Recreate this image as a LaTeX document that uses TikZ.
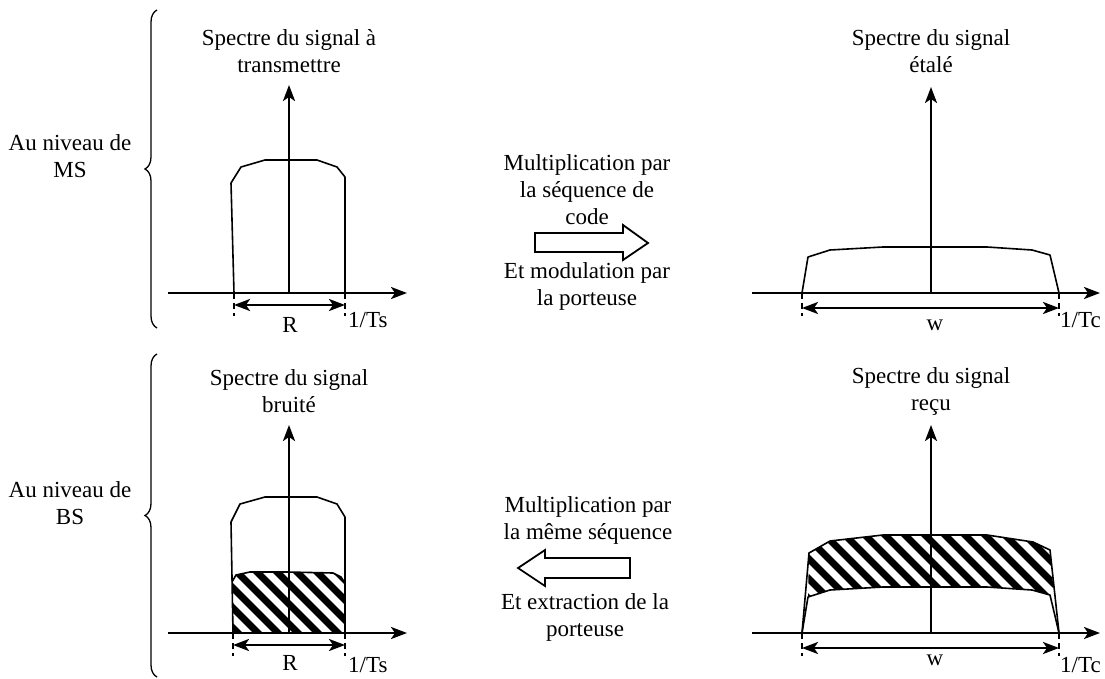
\documentclass[tikz,border=0pt]{standalone}
\usepackage{fontspec}
\setmainfont{Liberation Serif}
\usetikzlibrary{arrows.meta, decorations.pathreplacing, positioning}

\begin{document}
\begin{tikzpicture}[x=1pt, y=-1pt,
    lbl/.style={font=\fontsize{23}{27}\selectfont, align=center, inner sep=0pt},
    axe/.style={line width=2.4pt, -{Stealth[length=16pt, width=12pt, inset=4pt]}},
    cote/.style={line width=2.4pt, {Stealth[length=16pt, width=12pt, inset=4pt]}-{Stealth[length=16pt, width=12pt, inset=4pt]}},
    spec/.style={line width=1.6pt, line join=round},
    tick/.style={line width=1.2pt, dash pattern=on 6pt off 4pt},
    bloc/.style={line width=1.8pt, fill=white, line join=miter},
    acc/.style={line width=1.3pt, decorate, decoration={brace, amplitude=12pt}},
    hach/.style={line width=7pt}
  ]
  \useasboundingbox (0,0) rectangle (1105,679);

  % accolades
  \draw[acc] (157,328) -- (157,10);
  \draw[acc] (157,677) -- (157,354);
  \node[lbl] (ms) at (70,156) {Au niveau de\\MS};
  \node[lbl] (bs) at (70,503) {Au niveau de\\BS};

  % origines des axes
  \coordinate (o1) at (289,293);
  \coordinate (o2) at (931,293);
  \coordinate (o3) at (289,633);
  \coordinate (o4) at (931,633);

  % hachures
  \begin{scope}
    \clip (232,582) -- (236,575) -- (250,572) -- (287,572) -- (333,573) -- (341,577)
      -- (345,583) -- (345,633) -- (233,633) -- cycle;
    \foreach \k in {0,...,11}
      \draw[hach] (150+\k*20,565) -- ++(80,80);
  \end{scope}
  \begin{scope}
    \clip (808,597) -- (809,553) -- (830,541) -- (883,535) -- (987,535) -- (1033,542)
      -- (1050,550) -- (1054,595) -- (1050,595) -- (1032,590) -- (987,587)
      -- (883,587) -- (830,590) -- cycle;
    \foreach \k in {0,...,18}
      \draw[hach] (720+\k*20,530) -- ++(75,75);
  \end{scope}

  % spectres
  \draw[spec] (234,293) -- (231,183) -- (241,167) -- (265,160) -- (317,160)
    -- (337,167) -- (345,177) -- (345,293);
  \draw[spec] (802,293) -- (808,257) -- (830,250) -- (883,247) -- (987,247)
    -- (1032,250) -- (1050,255) -- (1059,293);
  \draw[spec] (233,633) -- (231,522) -- (240,504) -- (265,497) -- (317,497)
    -- (337,504) -- (345,517) -- (345,633);
  \draw[spec] (232,582) -- (236,575) -- (250,572) -- (287,572) -- (333,573)
    -- (341,577) -- (345,583);
  \draw[spec] (802,633) -- (809,553) -- (830,541) -- (883,535) -- (987,535)
    -- (1033,542) -- (1050,550) -- (1059,633);
  \draw[spec] (802,633) -- (808,597) -- (830,590) -- (883,587) -- (987,587)
    -- (1032,590) -- (1050,595) -- (1059,633);

  % axes
  \draw[axe] (168,293) -- (407,293);
  \draw[axe] (o1) -- (289,85);
  \draw[axe] (752,293) -- (1100,293);
  \draw[axe] (o2) -- (931,87);
  \draw[axe] (168,633) -- (407,633);
  \draw[axe] (o3) -- (289,425);
  \draw[axe] (752,633) -- (1100,633);
  \draw[axe] (o4) -- (931,425);

  % largeurs de bande
  \foreach \x/\y in {234/293, 345/293, 802/293, 1059/293, 233/633, 345/633, 802/633, 1059/633}
    \draw[tick] (\x,\y) -- ++(0,23);
  \draw[cote] (234,305) -- (345,305);
  \draw[cote] (802,308) -- (1059,308);
  \draw[cote] (233,645) -- (345,645);
  \draw[cote] (802,648) -- (1059,648);

  \node[lbl] (r1) at (290,325) {R};
  \node[lbl, anchor=west] (ts1) at (348,320) {1/Ts};
  \node[lbl] (w1) at (935,325) {w};
  \node[lbl, anchor=west] (tc1) at (1060,320) {1/Tc};
  \node[lbl] (r2) at (290,663) {R};
  \node[lbl, anchor=west] (ts2) at (348,665) {1/Ts};
  \node[lbl] (w2) at (935,660) {w};
  \node[lbl, anchor=west] (tc2) at (1060,665) {1/Tc};

  % titres
  \node[lbl] (t1) at (289,51) {Spectre du signal à\\transmettre};
  \node[lbl] (t2) at (931,51) {Spectre du signal\\étalé};
  \node[lbl] (t3) at (289,391) {Spectre du signal\\bruité};
  \node[lbl] (t4) at (931,391) {Spectre du signal\\reçu};

  % operations
  \node[lbl] (op1) at (587,190) {Multiplication par\\la séquence de\\code};
  \node[lbl] (op2) at (587,286) {Et modulation par\\la porteuse};
  \draw[bloc] (535,233) -- (623,233) -- (623,225) -- (648,243) -- (623,260)
    -- (623,252) -- (535,252) -- cycle;
  \node[lbl] (op3) at (588,520) {Multiplication par\\la même séquence};
  \node[lbl] (op4) at (585,617) {Et extraction de la\\porteuse};
  \draw[bloc] (630,558) -- (545,558) -- (545,550) -- (518,568) -- (545,586)
    -- (545,578) -- (630,578) -- cycle;
\end{tikzpicture}
\end{document}
